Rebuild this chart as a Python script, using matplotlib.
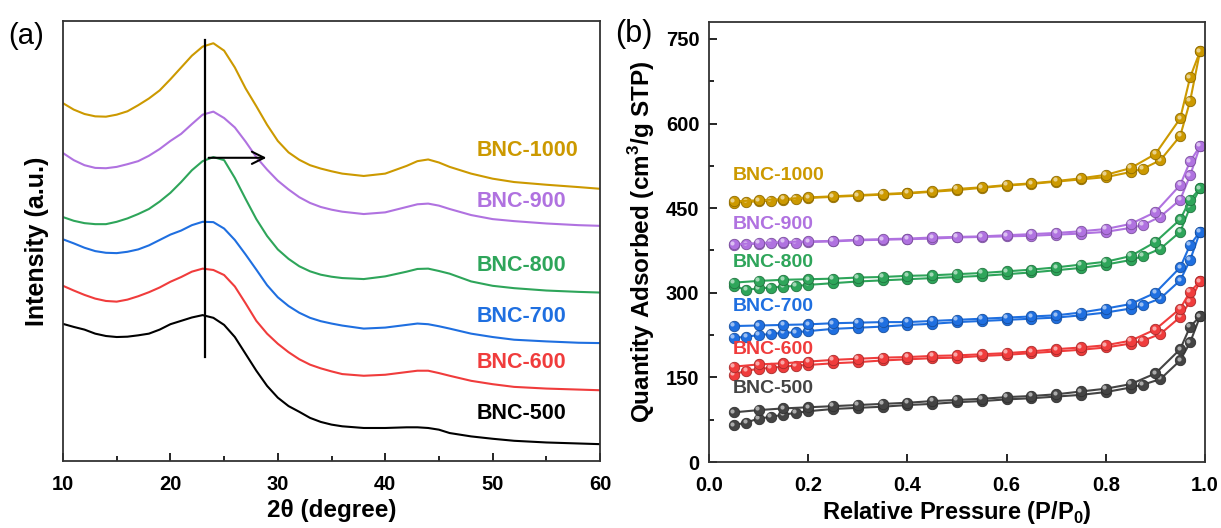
import numpy as np
import matplotlib
matplotlib.use('Agg')
import matplotlib.pyplot as plt
from matplotlib import transforms
from matplotlib.colors import to_rgb
from matplotlib.ticker import MultipleLocator

plt.rcParams['font.family'] = ['Liberation Sans', 'DejaVu Sans']
plt.rcParams['mathtext.fontset'] = 'custom'
plt.rcParams['mathtext.bf'] = 'Liberation Sans:bold'
plt.rcParams['mathtext.rm'] = 'Liberation Sans'

# ---------------- (a) XRD data (arbitrary units) --------
# values are depths below the top of the frame; intensity = XRD_BASE - depth
two_theta = list(range(10, 37)) + [38, 40, 42, 43, 44, 45, 46, 48, 50, 52, 55, 58, 60]
xrd_1000 = [306, 325, 338, 345, 346, 340, 330, 312, 292, 268, 235, 200, 165, 138,
            128, 150, 200, 262, 315, 370, 418, 452, 474, 490, 500, 508, 515,
            522, 515, 492, 478, 473, 482, 495, 515, 530, 540, 548, 555, 560]
xrd_900 = [454, 475, 490, 498, 499, 495, 487, 478, 462, 442, 418, 397, 368, 340,
           331, 350, 378, 420, 466, 503, 536, 562, 585, 602, 614, 622, 628,
           635, 630, 614, 606, 604, 610, 620, 638, 650, 656, 663, 668, 670]
xrd_800 = [644, 655, 662, 665, 665, 658, 648, 635, 620, 598, 572, 540, 505, 478,
           466, 475, 528, 590, 650, 700, 740, 768, 790, 805, 815, 821, 825,
           828, 820, 806, 798, 797, 804, 812, 835, 848, 855, 862, 866, 868]
xrd_700 = [710, 722, 735, 745, 750, 751, 747, 740, 728, 712, 696, 684, 668, 658,
           659, 678, 712, 755, 800, 846, 882, 908, 928, 943, 953, 960, 966,
           975, 972, 964, 960, 962, 968, 975, 990, 1000, 1008, 1013, 1017, 1018]
xrd_600 = [848, 862, 875, 886, 893, 895, 889, 879, 867, 853, 836, 822, 806, 797,
           801, 816, 850, 900, 952, 990, 1020, 1045, 1066, 1082, 1093, 1102, 1110,
           1115, 1112, 1104, 1100, 1100, 1107, 1115, 1130, 1140, 1148, 1153, 1156, 1158]
xrd_500 = [961, 970, 978, 990, 997, 1000, 999, 995, 990, 978, 962, 952, 942, 935,
           943, 964, 1000, 1050, 1100, 1145, 1180, 1205, 1222, 1240, 1252, 1260, 1265,
           1270, 1270, 1268, 1268, 1270, 1275, 1285, 1295, 1302, 1308, 1313, 1316, 1318]
XRD_BASE = 1368
XRD_TOP = 62

names = ['BNC-1000', 'BNC-900', 'BNC-800', 'BNC-700', 'BNC-600', 'BNC-500']
colors_a = ['#CC9900', '#B072E0', '#2EA55A', '#1F6FE0', '#F03C3C', '#000000']
colors_b = ['#CC9900', '#B072E0', '#2EA55A', '#1F6FE0', '#F03C3C', '#444444']
label_y_a = [445, 598, 788, 938, 1075, 1228]

# ---------------- (b) N2 isotherms ----------------------------------------
p_ads = [0.05, 0.075, 0.1, 0.125, 0.15, 0.175, 0.2, 0.25, 0.3, 0.35, 0.4, 0.45,
         0.5, 0.55, 0.6, 0.65, 0.7, 0.75, 0.8, 0.85, 0.875, 0.91, 0.95, 0.97, 0.99]
p_des = [0.99, 0.97, 0.95, 0.9, 0.85, 0.8, 0.75, 0.7, 0.65, 0.6, 0.55, 0.5, 0.45,
         0.4, 0.35, 0.3, 0.25, 0.2, 0.15, 0.1, 0.05]

ads_1000 = [460, 461, 462, 463, 464, 466, 468, 470, 472, 474, 476, 479, 482, 486,
            490, 493, 497, 501, 505, 514, 520, 535, 578, 640, 728]
des_1000 = [728, 682, 609, 546, 521, 509, 503, 498, 494, 491, 487, 484, 480,
            477, 475, 473, 471, 469, 466, 464, 462]
ads_900 = [385, 386, 387, 388, 388, 389, 390, 391, 393, 394, 395, 396, 398, 399,
           400, 401, 403, 405, 408, 415, 420, 435, 465, 508, 560]
des_900 = [560, 533, 491, 443, 422, 413, 409, 406, 404, 402, 400, 399, 398,
           396, 395, 394, 392, 391, 390, 388, 386]
ads_800 = [312, 305, 308, 309, 311, 312, 314, 317, 320, 322, 324, 326, 328, 330,
           333, 336, 340, 344, 350, 358, 365, 378, 408, 452, 485]
des_800 = [485, 465, 430, 390, 365, 355, 350, 345, 341, 338, 335, 333, 331,
           330, 328, 327, 325, 324, 323, 321, 318]
ads_700 = [220, 222, 225, 227, 229, 230, 232, 236, 238, 240, 243, 245, 248, 250,
           252, 254, 256, 260, 265, 272, 278, 290, 322, 358, 408]
des_700 = [408, 385, 345, 300, 280, 272, 265, 260, 258, 256, 254, 252, 250,
           248, 248, 247, 246, 244, 243, 242, 241]
ads_600 = [155, 162, 165, 167, 169, 171, 172, 175, 177, 180, 182, 184, 185, 188,
           190, 193, 196, 199, 203, 210, 215, 227, 257, 285, 320]
des_600 = [320, 302, 272, 235, 215, 207, 203, 200, 196, 193, 191, 189, 188,
           186, 185, 183, 181, 178, 175, 173, 169]
ads_500 = [65, 70, 77, 80, 84, 87, 90, 94, 96, 98, 101, 103, 106, 108, 111, 113,
           116, 119, 124, 132, 137, 147, 180, 212, 258]
des_500 = [258, 240, 200, 157, 138, 130, 125, 120, 117, 115, 112, 110, 108,
           105, 103, 101, 99, 97, 95, 92, 88]
label_y_b = [508, 421, 353, 276, 199, 130]

xrd_series = [xrd_1000, xrd_900, xrd_800, xrd_700, xrd_600, xrd_500]
ads_series = [ads_1000, ads_900, ads_800, ads_700, ads_600, ads_500]
des_series = [des_1000, des_900, des_800, des_700, des_600, des_500]

fig = plt.figure(figsize=(12.21, 5.28), dpi=100)
W, H = 1221, 528
ax1 = fig.add_axes([63 / W, 1 - 461 / H, 537 / W, 440 / H])
ax2 = fig.add_axes([709 / W, 1 - 462 / H, 496 / W, 440 / H])

TICK_FS = 14.5

# ---------------- panel (a) ----------------
for vals, c in zip(xrd_series, colors_a):
    ax1.plot(two_theta, XRD_BASE - np.array(vals), color=c, lw=1.5)
for n, c, ly in zip(names, colors_a, label_y_a):
    ax1.text(48.5, XRD_BASE - ly, n, color=c, fontsize=15.5, fontweight='bold',
             va='center', ha='left')
ax1.plot([23.25, 23.25], [XRD_BASE - 1058, XRD_BASE - 117], color='black', lw=1.6)
ax1.annotate('', xy=(29.2, XRD_BASE - 468), xytext=(23.3, XRD_BASE - 468),
             arrowprops=dict(arrowstyle='->', color='black', lw=1.5,
                             mutation_scale=22))
ax1.set_xlim(10, 60)
ax1.set_ylim(0, XRD_BASE - XRD_TOP)
ax1.set_yticks([])
ax1.xaxis.set_major_locator(MultipleLocator(10))
ax1.xaxis.set_minor_locator(MultipleLocator(5))
ax1.tick_params(axis='x', which='both', direction='in', labelsize=TICK_FS, pad=10)
ax1.tick_params(axis='x', which='major', length=6, width=1.2)
ax1.tick_params(axis='x', which='minor', length=3.5, width=1.2)
for lab in ax1.get_xticklabels():
    lab.set_fontweight('bold')
ax1.set_xlabel('2θ (degree)', fontsize=17.5, fontweight='bold', labelpad=4)
ax1.set_ylabel('Intensity (a.u.)', fontsize=18, fontweight='bold', labelpad=10)
for s in ax1.spines.values():
    s.set_linewidth(1.3)
    s.set_color('#333333')
fig.text(8 / W, 1 - 36 / H, '(a)', fontsize=21, va='center', ha='left')

# ---------------- panel (b) ----------------
for ads, des, c in zip(ads_series, des_series, colors_b):
    rgb = np.array(to_rgb(c))
    dark = rgb * 0.7
    light = rgb + (1 - rgb) * 0.55
    hl = transforms.offset_copy(ax2.transData, fig=fig, x=-1.2, y=1.2, units='points')
    for px, qv in ((p_ads, ads), (p_des, des)):
        ax2.plot(px, qv, color=c, lw=1.5, marker='o', ms=7.5,
                 mfc=c, mec=dark, mew=0.6)
        ax2.plot(px, qv, ls='none', marker='o', ms=3.0, mfc=light, mec='none',
                 transform=hl)
for n, c, ly in zip(names, colors_b, label_y_b):
    ax2.text(0.047, ly, n, color=c, fontsize=14, fontweight='bold',
             va='center', ha='left')
ax2.set_xlim(0, 1.0)
ax2.set_ylim(0, 780)
ax2.xaxis.set_major_locator(MultipleLocator(0.2))
ax2.yaxis.set_major_locator(MultipleLocator(150))
ax2.yaxis.set_minor_locator(MultipleLocator(75))
ax2.tick_params(axis='both', which='both', direction='in', labelsize=TICK_FS)
ax2.tick_params(axis='x', which='both', pad=10)
ax2.tick_params(axis='y', which='both', pad=7)
ax2.tick_params(axis='both', which='major', length=6, width=1.2)
ax2.tick_params(axis='both', which='minor', length=3.5, width=1.2)
for lab in ax2.get_xticklabels() + ax2.get_yticklabels():
    lab.set_fontweight('bold')
ax2.set_xlabel(r'Relative Pressure (P/P$_\mathbf{0}$)', fontsize=17,
               fontweight='bold', labelpad=3)
ax2.set_ylabel(r'Quantity Adsorbed (cm$^\mathbf{3}$/g STP)', fontsize=17.5,
               fontweight='bold', labelpad=6)
for s in ax2.spines.values():
    s.set_linewidth(1.3)
    s.set_color('#333333')
fig.text(615 / W, 1 - 34 / H, '(b)', fontsize=22, va='center', ha='left')

fig.savefig('out.png', dpi=100)
